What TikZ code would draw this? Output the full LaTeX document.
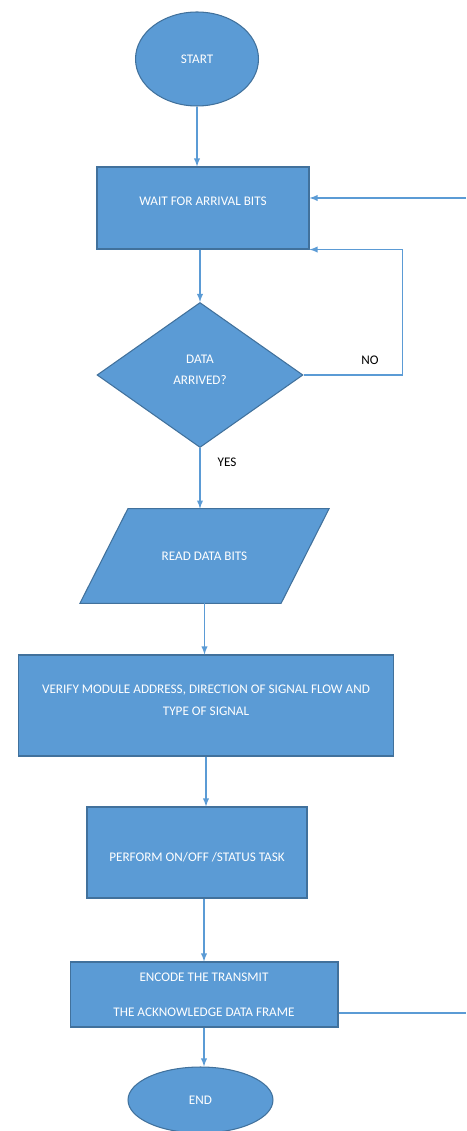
\documentclass[tikz,border=0pt]{standalone}
\usepackage{fontspec}
\setmainfont{Carlito}
\usetikzlibrary{shapes.geometric,backgrounds}
\definecolor{boxblue}{HTML}{5B9BD5}
\definecolor{edgeblue}{HTML}{41719C}
\definecolor{lineblue}{HTML}{5B9BD5}

\tikzset{
  flowtext/.style={font=\fontsize{7.5}{12}\selectfont, text=white, align=center},
  procbox/.style={flowtext, draw=edgeblue, fill=boxblue, line width=0.6pt, rectangle},
  termbox/.style={flowtext, draw=edgeblue, fill=boxblue, line width=0.6pt, ellipse},
  decbox/.style={flowtext, draw=edgeblue, fill=boxblue, line width=0.6pt, diamond, inner sep=0pt},
  ioshape/.style={draw=edgeblue, fill=boxblue, line width=0.6pt},
  flowline/.style={draw=lineblue, line width=0.6pt},
  flowarrow/.style={flowline, -latex},
  answer/.style={font=\fontsize{7.5}{9.5}\selectfont, text=black}
}

\begin{document}
\begin{tikzpicture}[x=0.02cm, y=-0.02cm]
  \useasboundingbox (0,0) rectangle (466,1131);

  % shapes
  \node[termbox, minimum width=2.46cm, minimum height=1.88cm] (start) at (197,59) {START};
  \node[procbox, minimum width=4.24cm, minimum height=1.64cm] (wait) at (203,208) {WAIT FOR ARRIVAL BITS\\[-4pt]};
  \node[decbox, minimum width=4.12cm, minimum height=2.9cm] (dec) at (200,375) {DATA\\ARRIVED?\\[-6pt]};
  \node[flowtext, minimum width=4.01cm, minimum height=1.88cm] (read) at (204.5,556) {READ DATA BITS};
  \begin{scope}[on background layer]
    \path[ioshape] ([xshift=0.48cm]read.north west) -- ([xshift=0.48cm]read.north east)
      -- ([xshift=-0.48cm]read.south east) -- ([xshift=-0.48cm]read.south west) -- cycle;
  \end{scope}
  \node[procbox, minimum width=7.52cm, minimum height=2.02cm] (verify) at (206,705.5)
    {VERIFY MODULE ADDRESS, DIRECTION OF SIGNAL FLOW AND\\TYPE OF SIGNAL\\[-6pt]};
  \node[procbox, minimum width=4.4cm, minimum height=1.82cm, text height=11.5pt, text depth=1.5pt] (perform) at (197,852.5)
    {PERFORM ON/OFF /STATUS TASK};
  \node[procbox, minimum width=5.36cm, minimum height=1.3cm] (encode) at (204,994.5)
    {ENCODE THE TRANSMIT\\[8pt]THE ACKNOWLEDGE DATA FRAME};
  \node[termbox, minimum width=2.9cm, minimum height=1.32cm] (end) at (200.5,1100) {END};

  % answers
  \node[answer] (no) at (370,360) {NO};
  \node[answer] (yes) at (227,462) {YES};

  % free ends at the right edge
  \coordinate (waitin) at (466,198);
  \coordinate (encout) at (466,1013);

  % connectors
  \draw[flowarrow] (start.south) -- (start.south |- wait.north);
  \draw[flowarrow] (dec.north |- wait.south) -- (dec.north);
  \draw[flowarrow] (dec.south) -- (dec.south |- read.north);
  \draw[flowarrow] (read.south) -- (read.south |- verify.north);
  \draw[flowarrow] (verify.south) -- (verify.south |- perform.north);
  \draw[flowarrow] (encode.north |- perform.south) -- (encode.north);
  \draw[flowarrow] (encode.south) -- (encode.south |- end.north);
  \draw[flowarrow] (dec.east) -- ++(99,0) |- (wait.south east);
  \draw[flowarrow] (waitin) -- (waitin -| wait.east);
  \draw[flowline] (encode.east |- encout) -- (encout);
\end{tikzpicture}
\end{document}
